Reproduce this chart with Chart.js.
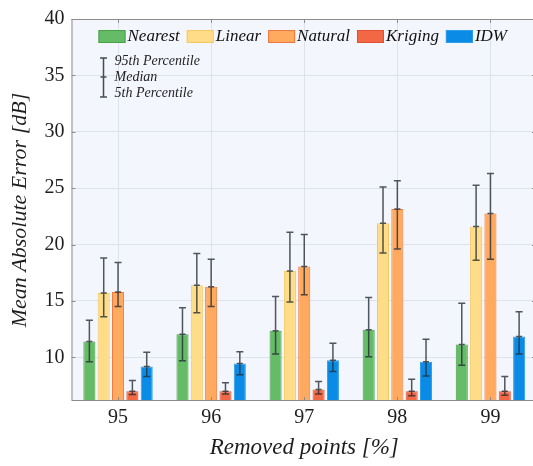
<!DOCTYPE html>
<html>
<head>
<meta charset="utf-8">
<script src="https://cdn.jsdelivr.net/npm/chart.js@4.4.1/dist/chart.umd.min.js"></script>
<style>
  html, body { margin: 0; padding: 0; background: #fff; overflow: hidden; }
  #wrap { width: 537px; height: 466px; }
</style>
</head>
<body>
<div id="wrap"><canvas id="chart"></canvas></div>
<script>
// Removed points [%]
const categories = ['95', '96', '97', '98', '99'];

// medians (bar height) and 5th / 95th percentiles
const nearestMed = [11.4, 12.05, 12.35, 12.45, 11.15];
const nearestLo  = [9.6, 9.7, 10.3, 10.05, 9.3];
const nearestHi  = [13.3, 14.4, 15.4, 15.3, 14.8];

const linearMed = [15.7, 16.4, 17.65, 21.9, 21.6];
const linearLo  = [13.6, 13.95, 14.9, 19.25, 18.6];
const linearHi  = [18.8, 19.2, 21.1, 25.1, 25.25];

const naturalMed = [15.8, 16.25, 18.05, 23.15, 22.75];
const naturalLo  = [14.5, 14.5, 15.55, 19.6, 18.7];
const naturalHi  = [18.4, 18.7, 20.9, 25.65, 26.3];

const krigingMed = [7.0, 7.0, 7.15, 7.0, 7.0];
const krigingLo  = [6.7, 6.75, 6.75, 6.6, 6.65];
const krigingHi  = [7.95, 7.75, 7.85, 8.05, 8.3];

const idwMed = [9.2, 9.45, 9.75, 9.6, 11.85];
const idwLo  = [8.3, 8.45, 8.75, 8.35, 10.3];
const idwHi  = [10.45, 10.5, 11.25, 11.6, 14.05];

const yTicks = [10, 15, 20, 25, 30, 35, 40];

const serif = 'Liberation Serif';

function series(label, data, lo, hi, fill, border) {
  return {
    label: label,
    data: data,
    lo: lo,
    hi: hi,
    backgroundColor: fill,
    borderColor: border,
    borderWidth: 1,
    barPercentage: 0.84,
    categoryPercentage: 0.77
  };
}

// plot background, frame and inward ticks
const framePlugin = {
  id: 'frame',
  beforeDraw(chart) {
    const a = chart.chartArea, ctx = chart.ctx;
    ctx.save();
    ctx.fillStyle = '#f3f6fc';
    ctx.fillRect(a.left, a.top, a.right - a.left, a.bottom - a.top);
    ctx.restore();
  },
  afterDraw(chart) {
    const a = chart.chartArea, ctx = chart.ctx;
    const xs = chart.scales.x, ys = chart.scales.y;
    ctx.save();
    ctx.strokeStyle = '#8c8c8c';
    ctx.lineWidth = 1;
    ctx.strokeRect(a.left + 0.5, a.top + 0.5, a.right - a.left - 1, a.bottom - a.top - 1);
    ctx.beginPath();
    xs.ticks.forEach((t, i) => {
      const x = Math.round(xs.getPixelForTick(i)) + 0.5;
      ctx.moveTo(x, a.bottom); ctx.lineTo(x, a.bottom - 4);
      ctx.moveTo(x, a.top); ctx.lineTo(x, a.top + 4);
    });
    ys.ticks.forEach(t => {
      const y = Math.round(ys.getPixelForValue(t.value)) + 0.5;
      ctx.moveTo(a.left, y); ctx.lineTo(a.left + 4, y);
      ctx.moveTo(a.right, y); ctx.lineTo(a.right - 5, y);
    });
    ctx.stroke();
    ctx.restore();
  }
};

// percentile whiskers with a median tick
const errorPlugin = {
  id: 'errorbars',
  afterDatasetsDraw(chart) {
    const ctx = chart.ctx, ys = chart.scales.y;
    ctx.save();
    ctx.strokeStyle = 'rgba(38,46,54,0.8)';
    ctx.lineWidth = 1.5;
    chart.data.datasets.forEach((ds, d) => {
      const meta = chart.getDatasetMeta(d);
      meta.data.forEach((bar, i) => {
        const x = bar.x;
        const yl = ys.getPixelForValue(ds.lo[i]);
        const yh = ys.getPixelForValue(ds.hi[i]);
        const ym = ys.getPixelForValue(ds.data[i]);
        ctx.beginPath();
        ctx.moveTo(x, yl); ctx.lineTo(x, yh);
        ctx.moveTo(x - 3.5, yl); ctx.lineTo(x + 3.5, yl);
        ctx.moveTo(x - 3.5, yh); ctx.lineTo(x + 3.5, yh);
        ctx.moveTo(x - 3, ym); ctx.lineTo(x + 3, ym);
        ctx.stroke();
      });
    });
    ctx.restore();
  }
};

// legend drawn inside the plot, plus the whisker key
const legendPlugin = {
  id: 'insideLegend',
  afterDraw(chart) {
    const a = chart.chartArea, ctx = chart.ctx;
    ctx.save();
    ctx.font = 'italic 17px "' + serif + '"';
    ctx.textBaseline = 'middle';
    let x = a.left + 27;
    const y = a.top + 11;
    chart.data.datasets.forEach(ds => {
      ctx.fillStyle = ds.backgroundColor;
      ctx.fillRect(x, y, 27, 13);
      ctx.strokeStyle = ds.borderColor;
      ctx.lineWidth = 1;
      ctx.strokeRect(x + 0.5, y + 0.5, 26, 12);
      ctx.fillStyle = '#111';
      ctx.fillText(ds.label, x + 29, y + 7);
      x += 29 + ctx.measureText(ds.label).width + 7;
    });

    const kx = a.left + 32;
    const top = a.top + 39, mid = a.top + 58, bot = a.top + 78;
    ctx.strokeStyle = 'rgba(38,46,54,0.85)';
    ctx.lineWidth = 1.5;
    ctx.beginPath();
    ctx.moveTo(kx, top); ctx.lineTo(kx, bot);
    ctx.moveTo(kx - 3.5, top); ctx.lineTo(kx + 3.5, top);
    ctx.moveTo(kx - 3.5, bot); ctx.lineTo(kx + 3.5, bot);
    ctx.moveTo(kx - 3, mid); ctx.lineTo(kx + 3, mid);
    ctx.stroke();
    ctx.font = 'italic 14px "' + serif + '"';
    ctx.fillStyle = '#222';
    ctx.fillText('95th Percentile', kx + 11, top + 3);
    ctx.fillText('Median', kx + 11, mid);
    ctx.fillText('5th Percentile', kx + 11, bot - 4);
    ctx.restore();
  }
};

const config = {
  type: 'bar',
  data: {
    labels: categories,
    datasets: [
      series('Nearest', nearestMed, nearestLo, nearestHi, '#66bb66', '#46a046'),
      series('Linear', linearMed, linearLo, linearHi, '#ffdd88', '#f5c862'),
      series('Natural', naturalMed, naturalLo, naturalHi, '#ffaa5e', '#f0783c'),
      series('Kriging', krigingMed, krigingLo, krigingHi, '#f26844', '#e2502f'),
      series('IDW', idwMed, idwLo, idwHi, '#0a8ce6', '#2f9cea')
    ]
  },
  options: {
    responsive: true,
    maintainAspectRatio: false,
    animation: false,
    layout: { padding: { top: 16, right: 0, left: 0, bottom: 0 } },
    plugins: {
      legend: { display: false },
      tooltip: { enabled: false }
    },
    scales: {
      x: {
        grid: { color: '#dde3eb', offset: false, drawTicks: false },
        border: { display: false },
        ticks: { color: '#1e1e1e', padding: 5, font: { family: serif, size: 20 } },
        title: {
          display: true,
          text: 'Removed points [%]',
          color: '#1e1e1e',
          font: { family: serif, size: 23, style: 'italic' },
          padding: { top: 0, bottom: 4 }
        },
        afterFit(scale) { scale.height = 65; }
      },
      y: {
        min: 6.13,
        max: 40,
        afterBuildTicks(scale) {
          scale.ticks = yTicks.map(v => ({ value: v }));
        },
        grid: { color: '#dde3eb', drawTicks: false },
        border: { display: false },
        ticks: { color: '#1e1e1e', padding: 7, font: { family: serif, size: 20 } },
        title: {
          display: true,
          text: 'Mean Absolute Error [dB]',
          color: '#1e1e1e',
          font: { family: serif, size: 22, style: 'italic' },
          padding: { top: 7, bottom: 0 }
        },
        afterFit(scale) { scale.width = 71.5; }
      }
    }
  },
  plugins: [framePlugin, errorPlugin, legendPlugin]
};

var barChart = new Chart(document.getElementById('chart'), config);
</script>
</body>
</html>
